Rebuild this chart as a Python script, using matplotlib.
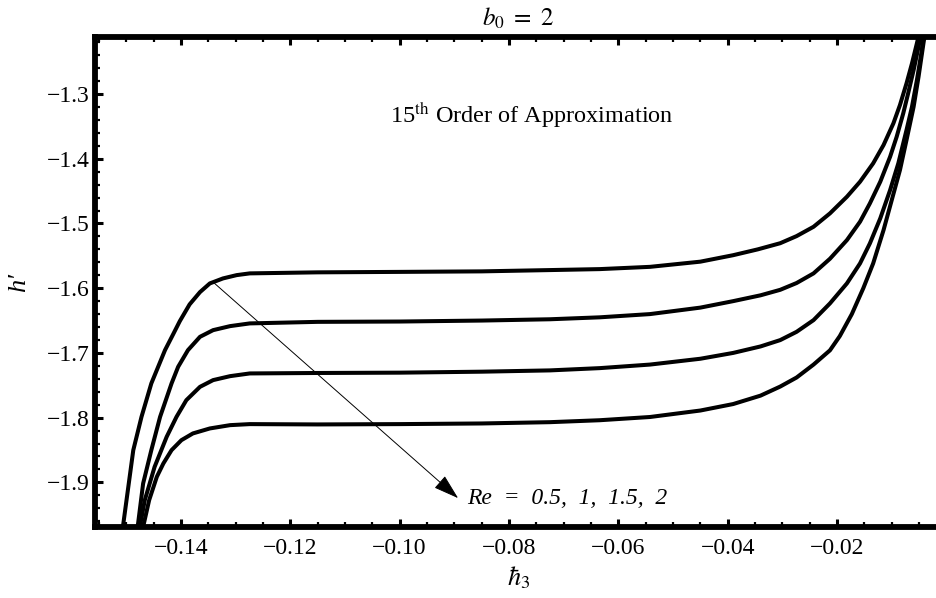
import matplotlib
matplotlib.use('Agg')
import matplotlib.pyplot as plt
from matplotlib.ticker import MultipleLocator, FuncFormatter

plt.rcParams['font.family'] = ['Liberation Serif', 'DejaVu Serif']
plt.rcParams['mathtext.fontset'] = 'stix'

# valores: hbar_3 (x) e h' (y) para cada Re
re_values = ['0.5', '1', '1.5', '2']

x_re05 = [-0.1510, -0.1506, -0.1487, -0.1472, -0.1454, -0.1429, -0.1414, -0.1402,
          -0.1384, -0.1365, -0.1347, -0.1323, -0.1298, -0.1274, -0.115, -0.100,
          -0.085, -0.0725, -0.0634, -0.0542, -0.045, -0.039, -0.0345, -0.0304,
          -0.0274, -0.0243, -0.0213, -0.0182, -0.0158, -0.0134, -0.0115, -0.0097,
          -0.0085, -0.0073, -0.0063, -0.0054, -0.0048]
y_re05 = [-1.995, -1.9688, -1.8502, -1.7988, -1.7471, -1.6957, -1.671, -1.651,
          -1.625, -1.606, -1.5926, -1.5849, -1.5798, -1.5771, -1.5755, -1.5748,
          -1.574, -1.572, -1.5705, -1.567, -1.559, -1.549, -1.540, -1.5305,
          -1.5195, -1.5051, -1.4844, -1.4587, -1.4355, -1.4071, -1.3788, -1.3453,
          -1.317, -1.2835, -1.2526, -1.2216, -1.200]

x_re1 = [-0.1483, -0.1479, -0.1469, -0.1454, -0.1438, -0.1417, -0.1405, -0.1387,
         -0.1365, -0.1341, -0.1310, -0.1274, -0.115, -0.100, -0.085, -0.0725,
         -0.0634, -0.0542, -0.045, -0.0390, -0.0340, -0.0304, -0.0274, -0.0243,
         -0.0213, -0.0182, -0.0158, -0.0140, -0.0121, -0.0103, -0.0091, -0.0079,
         -0.0070, -0.0060, -0.0051, -0.0045]
y_re1 = [-1.995, -1.9688, -1.9017, -1.8502, -1.7988, -1.7471, -1.7215, -1.6957,
         -1.6751, -1.6648, -1.6586, -1.6544, -1.652, -1.6515, -1.650, -1.648,
         -1.645, -1.640, -1.630, -1.620, -1.611, -1.6025, -1.5920, -1.5771,
         -1.5545, -1.5257, -1.4973, -1.469, -1.4355, -1.3969, -1.366, -1.3299,
         -1.2989, -1.2629, -1.2269, -1.200]

x_re15 = [-0.1481, -0.1475, -0.1466, -0.1448, -0.1426, -0.1408, -0.1390, -0.1365,
          -0.1341, -0.1310, -0.1274, -0.115, -0.100, -0.085, -0.0725, -0.0634,
          -0.0542, -0.045, -0.039, -0.0340, -0.0304, -0.0274, -0.0243, -0.0213,
          -0.0182, -0.0158, -0.0140, -0.0121, -0.0103, -0.0088, -0.0073, -0.0063,
          -0.0054, -0.0045, -0.0041]
y_re15 = [-1.995, -1.9688, -1.9275, -1.876, -1.8297, -1.7988, -1.773, -1.7524,
          -1.742, -1.7359, -1.7317, -1.731, -1.7305, -1.729, -1.727, -1.7235,
          -1.718, -1.709, -1.700, -1.690, -1.6802, -1.6674, -1.6493, -1.6235,
          -1.5926, -1.5617, -1.5308, -1.4921, -1.4484, -1.4071, -1.3556, -1.3196,
          -1.2784, -1.232, -1.200]

x_re2 = [-0.1476, -0.1469, -0.1458, -0.1444, -0.1432, -0.1417, -0.1399, -0.1378,
         -0.1347, -0.1310, -0.1274, -0.115, -0.100, -0.085, -0.0725, -0.0634,
         -0.0542, -0.045, -0.039, -0.0340, -0.0304, -0.0274, -0.0243, -0.0213,
         -0.0195, -0.0173, -0.0152, -0.0134, -0.0115, -0.0100, -0.0085, -0.0073,
         -0.0060, -0.0051, -0.0042, -0.0038]
y_re2 = [-1.995, -1.9688, -1.9275, -1.8915, -1.8708, -1.8502, -1.8348, -1.8244,
         -1.8167, -1.8116, -1.810, -1.8105, -1.810, -1.809, -1.807, -1.804,
         -1.799, -1.789, -1.779, -1.766, -1.752, -1.738, -1.718, -1.696,
         -1.674, -1.640, -1.600, -1.5617, -1.5102, -1.4638, -1.4175, -1.3711,
         -1.3196, -1.2733, -1.2216, -1.200]

curves = [(x_re05, y_re05), (x_re1, y_re1), (x_re15, y_re15), (x_re2, y_re2)]

fig = plt.figure(figsize=(9.37, 5.98), dpi=100)
ax = fig.add_axes([0.1014, 0.1187, 0.904, 0.8194])

for xs, ys in curves:
    ax.plot(xs, ys, color='black', lw=2.9, solid_capstyle='round', solid_joinstyle='round')

ax.set_xlim(-0.1557, -0.0008)
ax.set_ylim(-1.969, -1.2119)

ax.xaxis.set_major_locator(MultipleLocator(0.02))
ax.xaxis.set_minor_locator(MultipleLocator(0.005))
ax.yaxis.set_major_locator(MultipleLocator(0.1))
ax.yaxis.set_minor_locator(MultipleLocator(0.02))
ax.xaxis.set_major_formatter(FuncFormatter(lambda v, p: f'{v:.2f}'.replace('-', '\u2212')))
ax.yaxis.set_major_formatter(FuncFormatter(lambda v, p: f'{v:.1f}'.replace('-', '\u2212')))

for s in ax.spines.values():
    s.set_linewidth(4.2)
ax.tick_params(which='both', direction='in', top=True, right=False,
               labelsize=17, pad=4)
ax.tick_params(which='major', length=6, width=2.2)
ax.tick_params(which='minor', length=3.5, width=1.6)
ax.tick_params(axis='x', which='major', pad=8)

ax.set_title(r'$b_0\ =\ 2$', fontsize=18, pad=8)
ax.set_xlabel(r'$\hbar_3$', fontsize=19, labelpad=4)
ax.set_ylabel('h\u2032', fontsize=19, fontstyle='italic', labelpad=12)

ax.text(-0.1018, -1.3325, r'15$^{\mathrm{th}}$ Order of Approximation', fontsize=17.5,
        ha='left', va='center')

ax.annotate('', xy=(-0.0893, -1.9244), xytext=(-0.1341, -1.5906),
            arrowprops=dict(arrowstyle='-|>,head_length=1.6,head_width=0.5',
                            color='black', lw=0.7, shrinkA=0, shrinkB=0))
ax.text(-0.0877, -1.925, 'Re  =  0.5,  1,  1.5,  2', fontsize=17, fontstyle='italic',
        ha='left', va='center')

fig.savefig('out.png', dpi=100)
